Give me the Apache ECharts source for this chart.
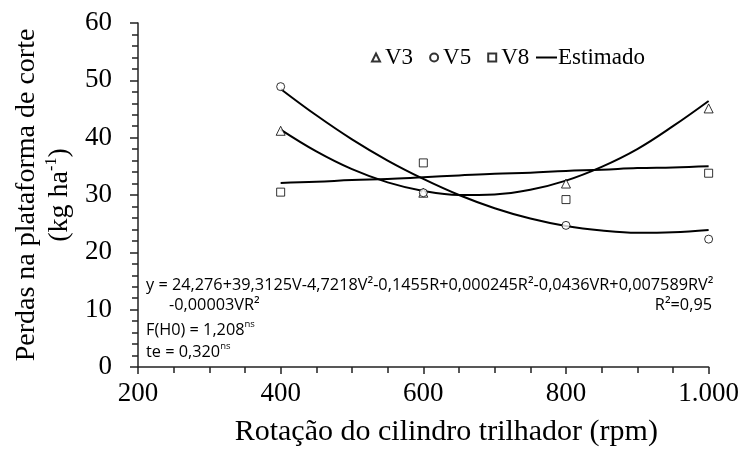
<!DOCTYPE html>
<html>
<head>
<meta charset="utf-8">
<script src="https://cdn.jsdelivr.net/npm/echarts@6/dist/echarts.min.js"></script>
<style>
  html, body { margin: 0; padding: 0; background: #fff; }
  #chart { width: 742px; height: 452px; }
</style>
</head>
<body>
<div id="chart"></div>
<script>
// Observed losses at the cutting platform (kg/ha) per drum speed
const rpmObs = [400, 600, 800, 1000];
const v3Obs = [41.2, 30.4, 32.0, 45.1];
const v5Obs = [48.9, 30.4, 24.7, 22.3];
const v8Obs = [30.5, 35.6, 29.2, 33.8];

// Fitted response curves ("Estimado")
const rpmFit = [400, 450, 500, 550, 600, 650, 700, 750, 800, 850, 900, 950, 1000];
const v3Fit = [41.4, 37.6, 34.5, 32.2, 30.7, 30.0, 30.1, 30.9, 32.5, 34.9, 38.0, 42.0, 46.4];
const v5Fit = [48.5, 43.9, 39.7, 36.0, 32.8, 30.0, 27.7, 25.9, 24.6, 23.8, 23.4, 23.5, 23.9];
const v8Fit = [32.1, 32.3, 32.6, 32.8, 33.1, 33.4, 33.7, 33.9, 34.2, 34.4, 34.7, 34.8, 35.0];

// Tick labels
const xTickLabels = { 200: '200', 400: '400', 600: '600', 800: '800', 1000: '1.000' };
const yTicks = [0, 10, 20, 30, 40, 50, 60];

const pairs = (xs, ys) => xs.map((x, i) => [x, ys[i]]);
const serif = 'Liberation Serif';
const sans = 'Open Sans';
const eqSize = 16.3;

const chart = echarts.init(document.getElementById('chart'), null, { renderer: 'canvas' });

const obsStyle = { color: '#fff', borderColor: '#000', borderWidth: 1 };
const fitLine = { color: '#000', width: 2 };
const legendText = { fontFamily: serif, fontSize: 23, color: '#000' };

const supRich = {
  a: { fontFamily: sans, fontSize: eqSize, fill: '#000', lineHeight: 22 },
  s: { fontFamily: sans, fontSize: 9.5, fill: '#000', lineHeight: 22, verticalAlign: 'top', padding: [0, 0, 8, 0] }
};

chart.setOption({
  animation: false,
  backgroundColor: '#fff',
  grid: { left: 138, right: 32, top: 23, bottom: 80, containLabel: false },
  legend: [
    {
      data: ['V3', 'V5', 'V8'],
      left: 366, top: 41,
      itemWidth: 8, itemHeight: 8, itemGap: 16,
      textStyle: legendText
    },
    {
      data: [{ name: 'Estimado', icon: 'rect', itemStyle: { color: '#000', borderWidth: 0 } }],
      left: 531, top: 41,
      itemWidth: 21, itemHeight: 2,
      textStyle: Object.assign({ padding: [0, 0, 0, -4] }, legendText)
    }
  ],
  xAxis: {
    type: 'value', min: 200, max: 1000, interval: 200,
    name: 'Rotação do cilindro trilhador (rpm)',
    nameLocation: 'middle', nameGap: 50,
    nameTextStyle: { fontFamily: serif, fontSize: 30, color: '#000', padding: [0, 0, 0, 46] },
    axisLine: { show: true, lineStyle: { color: '#222', width: 1.5 } },
    axisTick: { show: true, length: 7, lineStyle: { color: '#222', width: 1.5 } },
    minorTick: { show: true, splitNumber: 4, length: 6, lineStyle: { color: '#222', width: 1.5 } },
    splitLine: { show: false },
    axisLabel: {
      fontFamily: serif, fontSize: 27, color: '#000', margin: 13,
      formatter: v => xTickLabels[v] ?? String(v)
    }
  },
  yAxis: {
    type: 'value', min: yTicks[0], max: yTicks[yTicks.length - 1], interval: 10,
    name: '{a|Perdas na plataforma de corte}\n{a|(kg ha}{s|-1}{a|)}',
    nameLocation: 'middle', nameGap: 60,
    nameTextStyle: {
      rich: {
        a: { fontFamily: serif, fontSize: 28, color: '#000', lineHeight: 33 },
        s: { fontFamily: serif, fontSize: 16, color: '#000', lineHeight: 33, verticalAlign: 'top' }
      }
    },
    axisLine: { show: true, lineStyle: { color: '#222', width: 1.5 } },
    axisTick: { show: true, length: 8, lineStyle: { color: '#222', width: 1.5 } },
    minorTick: { show: true, splitNumber: 5, length: 6, lineStyle: { color: '#222', width: 1.5 } },
    splitLine: { show: false },
    axisLabel: { fontFamily: serif, fontSize: 27, color: '#000', margin: 26 }
  },
  series: [
    { name: 'V3', type: 'scatter', symbol: 'triangle', symbolSize: 9, itemStyle: obsStyle, data: pairs(rpmObs, v3Obs), z: 3 },
    { name: 'V5', type: 'scatter', symbol: 'circle', symbolSize: 8, itemStyle: obsStyle, data: pairs(rpmObs, v5Obs), z: 3 },
    { name: 'V8', type: 'scatter', symbol: 'rect', symbolSize: 8, itemStyle: obsStyle, data: pairs(rpmObs, v8Obs), z: 3 },
    { name: 'Estimado', type: 'line', symbol: 'none', smooth: 0.4, lineStyle: fitLine, itemStyle: { color: '#000' }, data: pairs(rpmFit, v3Fit), z: 2 },
    { name: 'Estimado', type: 'line', symbol: 'none', smooth: 0.4, lineStyle: fitLine, itemStyle: { color: '#000' }, data: pairs(rpmFit, v5Fit), z: 2 },
    { name: 'Estimado', type: 'line', symbol: 'none', smooth: 0.4, lineStyle: fitLine, itemStyle: { color: '#000' }, data: pairs(rpmFit, v8Fit), z: 2 }
  ],
  graphic: [
    {
      type: 'text', left: 146, top: 277,
      style: { text: 'y = 24,276+39,3125V-4,7218V²-0,1455R+0,000245R²-0,0436VR+0,007589RV²', fontFamily: sans, fontSize: eqSize, fill: '#000' }
    },
    {
      type: 'text', left: 169, top: 297,
      style: { text: '-0,00003VR²', fontFamily: sans, fontSize: eqSize, fill: '#000' }
    },
    {
      type: 'text', right: 30, top: 297,
      style: { text: 'R²=0,95', fontFamily: sans, fontSize: eqSize, fill: '#000' }
    },
    {
      type: 'text', left: 146, top: 319,
      style: { text: '{a|F(H0) = 1,208}{s|ns}', rich: supRich }
    },
    {
      type: 'text', left: 146, top: 341,
      style: { text: '{a|te = 0,320}{s|ns}', rich: supRich }
    }
  ]
});
</script>
</body>
</html>
